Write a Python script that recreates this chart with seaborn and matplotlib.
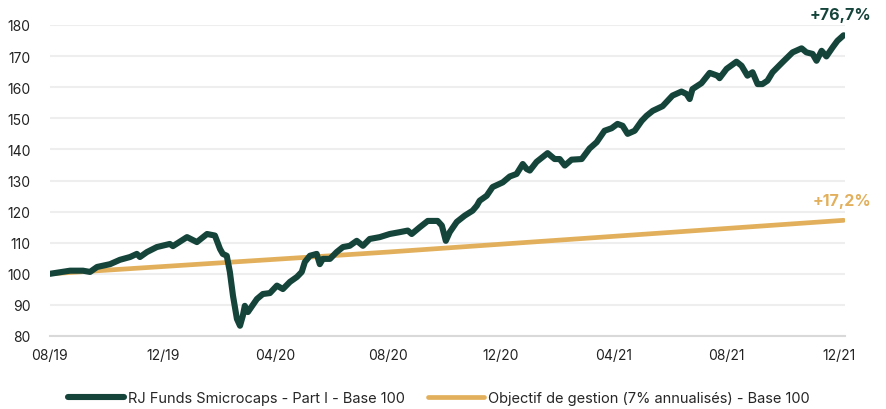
import matplotlib
matplotlib.use('Agg')
import matplotlib.pyplot as plt
import seaborn as sns
import pandas as pd

# months elapsed since 08/2019
fund_months = [0.00, 0.71, 1.17, 1.42, 1.67, 2.13, 2.48, 2.84, 3.08, 3.19, 3.44, 3.79,
               4.25, 4.36, 4.86, 5.21, 5.57, 5.85, 6.03, 6.13, 6.27, 6.38, 6.49, 6.63,
               6.74, 6.84, 6.91, 7.02, 7.34, 7.55, 7.80, 8.05, 8.26, 8.51, 8.76, 8.93,
               9.04, 9.22, 9.46, 9.57, 9.68, 9.93, 10.17, 10.39, 10.63, 10.88, 11.10, 11.34,
               11.70, 12.05, 12.41, 12.69, 12.83, 13.12, 13.40, 13.75, 13.90, 14.04, 14.18, 14.43,
               14.71, 14.99, 15.14, 15.24, 15.49, 15.70, 16.06, 16.31, 16.55, 16.77, 16.91, 17.02,
               17.26, 17.65, 17.90, 18.08, 18.26, 18.50, 18.86, 19.14, 19.39, 19.67, 19.92, 20.13,
               20.31, 20.49, 20.74, 20.99, 21.16, 21.38, 21.73, 22.08, 22.40, 22.58, 22.69, 22.79,
               23.11, 23.40, 23.68, 23.75, 24.00, 24.35, 24.53, 24.74, 24.92, 25.10, 25.27, 25.45,
               25.63, 25.98, 26.34, 26.66, 26.83, 27.05, 27.19, 27.37, 27.54, 27.76, 27.93, 28.15]
fund_values = [100.0, 101.0, 101.0, 100.6, 102.2, 103.1, 104.5, 105.4, 106.4, 105.4, 107.0, 108.6,
               109.6, 108.9, 111.8, 110.2, 112.8, 112.3, 108.0, 106.4, 105.8, 100.6, 93.0, 85.5,
               83.3, 86.5, 89.7, 87.7, 91.9, 93.5, 93.8, 96.2, 95.1, 97.4, 99.0, 100.6,
               103.8, 105.8, 106.4, 103.1, 104.8, 104.8, 107.0, 108.6, 109.0, 110.6, 109.0, 111.2,
               111.8, 112.8, 113.4, 113.9, 112.8, 115.0, 117.0, 117.0, 115.5, 110.6, 113.4, 116.7,
               118.7, 120.3, 121.9, 123.5, 125.1, 127.9, 129.4, 131.3, 132.1, 135.3, 133.7, 133.2,
               136.0, 138.8, 136.9, 136.9, 134.8, 136.7, 136.9, 140.3, 142.3, 146.0, 146.8, 148.2,
               147.6, 145.0, 146.0, 149.2, 150.8, 152.4, 153.9, 157.3, 158.6, 157.8, 156.2, 159.4,
               161.3, 164.6, 163.7, 162.9, 165.9, 168.2, 166.9, 163.7, 164.8, 161.0, 161.0, 162.1,
               164.8, 168.0, 171.2, 172.5, 171.2, 170.7, 168.5, 171.7, 169.9, 172.8, 174.9, 176.7]

target_months = [0.00, 12.0, 28.15]
target_values = [100.0, 107.0, 117.2]

tick_months = [0, 4, 8, 12, 16, 20, 24, 28]
tick_labels = ['08/19', '12/19', '04/20', '08/20', '12/20', '04/21', '08/21', '12/21']

fund_label = 'RJ Funds Smicrocaps - Part I - Base 100'
target_label = 'Objectif de gestion (7% annualisés) - Base 100'
fund_perf = '+76,7%'
target_perf = '+17,2%'

green = '#14443a'
gold = '#e2b05c'

sns.set_style('white')
plt.rcParams['font.family'] = ['Inter', 'DejaVu Sans']

fig = plt.figure(figsize=(8.86, 4.10), dpi=100)
ax = fig.add_axes([50 / 886, 1 - 337 / 410, 795 / 886, 311 / 410])

fund = pd.DataFrame({'month': fund_months, 'value': fund_values})
target = pd.DataFrame({'month': target_months, 'value': target_values})

sns.lineplot(data=target, x='month', y='value', ax=ax, color=gold, linewidth=3.4,
             label=target_label, solid_capstyle='round', zorder=3)
sns.lineplot(data=fund, x='month', y='value', ax=ax, color=green, linewidth=4.4,
             label=fund_label, solid_capstyle='round', solid_joinstyle='round', zorder=4)

ax.set_xlim(0, 28.2)
ax.set_ylim(80, 180)
ax.set_yticks(range(80, 181, 10))
ax.set_xticks(tick_months)
ax.set_xticklabels(tick_labels)
ax.set_xlabel('')
ax.set_ylabel('')
ax.grid(axis='y', color='#eeeeee', linewidth=1.5)
ax.set_axisbelow(True)
for s in ['top', 'right', 'left']:
    ax.spines[s].set_visible(False)
ax.spines['bottom'].set_color('#d9d9d9')
ax.spines['bottom'].set_linewidth(1.5)
ax.tick_params(axis='x', length=5, width=1.2, color='#d9d9d9', labelsize=10, pad=4, labelcolor='#222222')
ax.tick_params(axis='y', length=0, labelsize=10, pad=14, labelcolor='#222222')

ax.text(1.033, 1.035, fund_perf, transform=ax.transAxes, ha='right', va='center',
        color=green, fontsize=11.5, fontweight='bold')
ax.text(1.033, 0.435, target_perf, transform=ax.transAxes, ha='right', va='center',
        color=gold, fontsize=11.5, fontweight='bold')

handles, labels = ax.get_legend_handles_labels()
ax.legend(handles[::-1], labels[::-1], loc='center', bbox_to_anchor=(0.5 - 4 / 886, 11 / 410),
          bbox_transform=fig.transFigure, ncol=2, frameon=False, fontsize=10.5,
          handlelength=3.8, columnspacing=1.6, handletextpad=0.3)

fig.savefig('out.png', dpi=100)
